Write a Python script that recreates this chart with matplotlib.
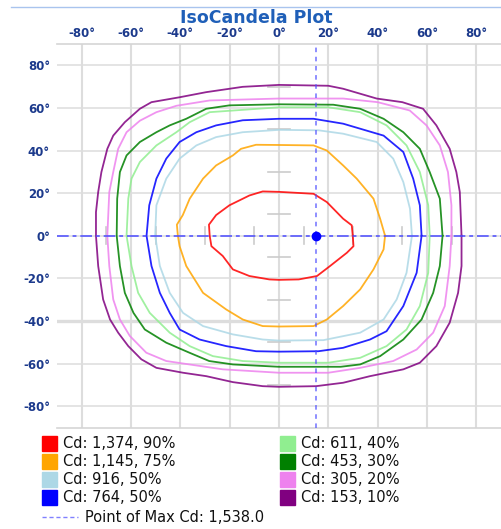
import matplotlib
matplotlib.use("Agg")
import matplotlib.pyplot as plt
from matplotlib.lines import Line2D
from matplotlib.patches import Rectangle

W, H = 501, 529

# iso-candela contours (degrees), traced counter-clockwise from the right side
red_x = [29.9, 29.5, 26, 19.4, 14, 0, -6.6, -12, -20.1, -25.5, -28.4, -28.1,
         -27.4, -22.8, -18.7, -12, -3.9, 0, 8, 15.4, 20.7, 27.5, 30.2, 29.9]
red_y = [0, 4.9, 8, 15.8, 19.7, 20.6, 20.8, 18.9, 14.3, 9.7, 5.2, 0,
         -4.9, -9.5, -15.8, -18.9, -20.5, -20.7, -20.5, -18.9, -14.2, -8, -4.9, 0]

orange_x = [43, 41, 38.3, 31.5, 26, 19.4, 14, 0, -9.3, -15.4, -18.7, -25.5, -30.8, -36.2, -39, -41.4, -41,
            -40.3, -37.6, -30.8, -21.4, -14.7, -6.6, 0, 14, 19.4, 26, 32.9, 38.3, 42.4, 43]
orange_y = [0, 8, 17.4, 26.8, 33, 40, 42.4, 42.6, 42.7, 40.8, 37.7, 33, 26.8, 17.4, 9.7, 5.2, 0,
            -4.9, -14.2, -26.8, -34.6, -39.3, -42.4, -42.6, -42.4, -39.3, -33, -25.2, -15.8, -6.4, 0]

lblue_x = [53.9, 53.1, 50.4, 46.3, 39.6, 26, 16, 0, -14.7, -25.5, -33.5, -40.3, -45.7, -49.7, -50.2,
           -48.3, -44.3, -38.9, -30.8, -18.7, -6.6, 0, 18, 32.9, 42.4, 47.7, 51.7, 53.9]
lblue_y = [0, 12.7, 25.2, 36.2, 44, 47.9, 49.5, 49.7, 48.6, 46.3, 42.4, 36.2, 26.8, 14.3, 0,
           -14.2, -26.8, -36.2, -42.4, -46.3, -48.7, -49.2, -49, -45.5, -39.3, -29.9, -17.4, 0]

blue_x = [57.8, 57.1, 54.4, 50.4, 42.4, 26, 14, 0, -14.7, -25.5, -33.5, -40.3, -45.7, -49.7, -52.6, -53.7,
          -51.7, -48.3, -44.3, -40.3, -32.2, -21.4, -9.3, 0, 16, 26, 36.9, 43.6, 50.4, 55.8, 57.8]
blue_y = [0, 14.3, 26.8, 39.3, 47, 52.6, 54.9, 54.9, 54.2, 51.8, 48.6, 44, 36.2, 26.8, 14.3, 0,
          -14.2, -26.8, -36.2, -44, -48.7, -51.8, -54.2, -54.4, -54.2, -52.6, -48.7, -44.8, -33, -17.4, 0]

lgreen_x = [61.1, 60.5, 57.1, 51.7, 43.6, 32.9, 20, 0, -28.1, -36.2, -41.6, -49.7, -56.4, -59.8, -61.1, -61.8,
            -59.8, -57.1, -52.4, -44.3, -36.2, -26.8, -14.7, 0, 20, 32.9, 43.6, 51.7, 57.1, 60.5, 61.1]
lgreen_y = [0, 14.3, 29.9, 42.4, 51.8, 58, 60.3, 60.3, 58, 53.3, 48.6, 42.4, 34.6, 26.8, 17.4, 0,
            -14.2, -26.8, -36.2, -45.5, -51.8, -56.5, -58.8, -59.6, -59.6, -57.3, -51.8, -44, -33, -17.4, 0]

green_x = [66.3, 65.2, 61.1, 57.1, 50.4, 42.4, 32.9, 22, 0, -20.1, -29.5, -37.6, -44.3, -49.7, -56.4, -61.8,
           -64.5, -65.6, -65.8, -64.5, -62.5, -59, -54.4, -45.7, -36.3, -28.3, -18.7, 0, 25, 32.9, 41,
           50.4, 57.8, 62.5, 65.2, 66.3]
green_y = [0, 17.4, 29.9, 40.8, 48.6, 54.9, 59.6, 61.5, 61.7, 61.2, 59.6, 54.9, 51.8, 48.6, 44, 37.7,
           29.9, 17.4, 0, -14.2, -26.8, -36.2, -44, -50.2, -54.9, -58.8, -60.4, -61.5, -61.5, -60.4, -56.5,
           -48.7, -39.3, -26.8, -14.2, 0]

pink_x = [69.9, 69.9, 68.5, 65.2, 59.8, 53, 40, 26, 0, -28.1, -41.6, -49.7, -56.4, -61.8, -65.2, -67.2,
          -68.8, -69.6, -68.8, -67.2, -64.5, -60.5, -53.8, -45.7, -36.3, -22.8, 0, 20, 32.9, 46.3, 55.8,
          62.5, 67.2, 69.2, 69.9]
pink_y = [0, 14.3, 29.9, 42.4, 51.8, 58.8, 62.7, 64.4, 64.4, 63.5, 61, 58, 54, 48.6, 40.8, 29.9,
          20.5, 0, -14.2, -29.9, -39.3, -47, -54.9, -58.8, -60.4, -62.7, -64.3, -64.3, -62, -58.8, -53.4,
          -45.5, -33, -14.2, 0]

purple_x = [74, 73.3, 71.9, 69.2, 63.8, 58.4, 50, 39.6, 26, 20, 0, -14.7, -29.5, -40.3, -51.7, -56.4,
            -62.5, -67.2, -69.6, -72, -73.3, -74.2, -74.2, -73.3, -71.3, -68.5, -65.2, -61.1, -55.8, -49.7,
            -38.9, -29.5, -18.7, -6.6, 0, 15, 26, 36.9, 50.4, 57.1, 63.8, 69.2, 72.6, 74, 74]
purple_y = [0, 20.5, 29.9, 40.8, 51.8, 59.6, 62.7, 64.4, 69, 70.4, 70.8, 69.9, 67.4, 65, 62.7, 59.6,
            53.3, 47, 40.8, 29.9, 20.5, 11.1, 0, -14.2, -29.9, -39.3, -45.5, -51.8, -58, -62,
            -64.3, -65.9, -68.7, -70.6, -70.9, -70.6, -69, -65.9, -62.7, -59.6, -51.8, -40.8, -26.8, -14.2, 0]

contours_x = [red_x, orange_x, lblue_x, blue_x, lgreen_x, green_x, pink_x, purple_x]
contours_y = [red_y, orange_y, lblue_y, blue_y, lgreen_y, green_y, pink_y, purple_y]
colors = ["#ff0000", "#ffa500", "#add8e6", "#0000ff", "#90ee90", "#008000", "#ee82ee", "#800080"]
labels = ["Cd: 1,374, 90%", "Cd: 1,145, 75%", "Cd: 916, 50%", "Cd: 764, 50%",
          "Cd: 611, 40%", "Cd: 453, 30%", "Cd: 305, 20%", "Cd: 153, 10%"]

max_x, max_y = 15, 0
max_label = "Point of Max Cd: 1,538.0"
ticks = [-80, -60, -40, -20, 0, 20, 40, 60, 80]
minor_ticks = [-70, -50, -30, -10, 10, 30, 50, 70]

fig = plt.figure(figsize=(W / 100, H / 100), dpi=100)
ax = fig.add_axes([57 / W, 1 - 427.5 / H, 444 / W, 383.5 / H])
ax.set_xlim(-90, 90)
ax.set_ylim(-90, 90)

for t in ticks:
    ax.axvline(t, color="#dddddd", lw=1.5, zorder=0)
    ax.axhline(t, color="#dddddd", lw=1.1 if t != -40 else 2.4, zorder=0)

# small marks along the centre axes
for t in minor_ticks:
    ax.plot([-4.5, 4.5], [t, t], color="#cccccc", lw=1.2, zorder=0.5)
    ax.plot([t, t], [-4, 4], color="#cccccc", lw=1.2, zorder=0.5)

for xs, ys, c in zip(contours_x, contours_y, colors):
    ax.plot(xs, ys, color=c, lw=1.3, alpha=0.85, zorder=2)

ax.axhline(max_y, color="#4d4dff", lw=1.4, ls=(0, (6, 2, 2, 2)), alpha=0.8, zorder=3)
ax.axvline(max_x, color="#4d4dff", lw=1.1, ls=(0, (3, 3)), alpha=0.8, zorder=3)
ax.plot([max_x], [max_y], "o", color="#0000ff", ms=6, zorder=4)

ax.set_xticks(ticks)
ax.set_yticks(ticks)
ax.set_xticklabels([f"{t}°" for t in ticks])
ax.set_yticklabels([f"{t}°" for t in ticks])
ax.xaxis.tick_top()
ax.tick_params(length=0, labelsize=8.5, labelcolor="#1c3a8c")
ax.tick_params(axis="x", pad=3)
ax.tick_params(axis="y", pad=5)
for lab in ax.get_xticklabels() + ax.get_yticklabels():
    lab.set_fontweight("bold")
for s in ["left", "right"]:
    ax.spines[s].set_visible(False)
for s in ["top", "bottom"]:
    ax.spines[s].set_color("#d5d5d5")
    ax.spines[s].set_linewidth(1.2)

fig.text(256 / W, 1 - 18 / H, "IsoCandela Plot", ha="center", va="center",
         fontsize=12.5, fontweight="bold", color="#1f5fb8")
fig.add_artist(Line2D([11 / W, 1], [1 - 7 / H, 1 - 7 / H], color="#a9c4ee", lw=1))

# legend
rows = [443, 461, 479, 497]
for i, (c, lab) in enumerate(zip(colors, labels)):
    col, row = divmod(i, 4)
    x0 = 42 if col == 0 else 280
    y0 = rows[row]
    fig.add_artist(Rectangle((x0 / W, 1 - (y0 + 7.5) / H), 15 / W, 15 / H,
                             color=c, transform=fig.transFigure))
    fig.text((x0 + 21) / W, 1 - y0 / H, lab, ha="left", va="center", fontsize=10.5, color="#111111")
fig.add_artist(Line2D([42 / W, 78 / W], [1 - 517 / H, 1 - 517 / H], color="#8080ff", lw=1,
                      ls=(0, (3, 2))))
fig.text(85 / W, 1 - 517 / H, max_label, ha="left", va="center", fontsize=10.5, color="#111111")

fig.savefig("out.png", dpi=100)
